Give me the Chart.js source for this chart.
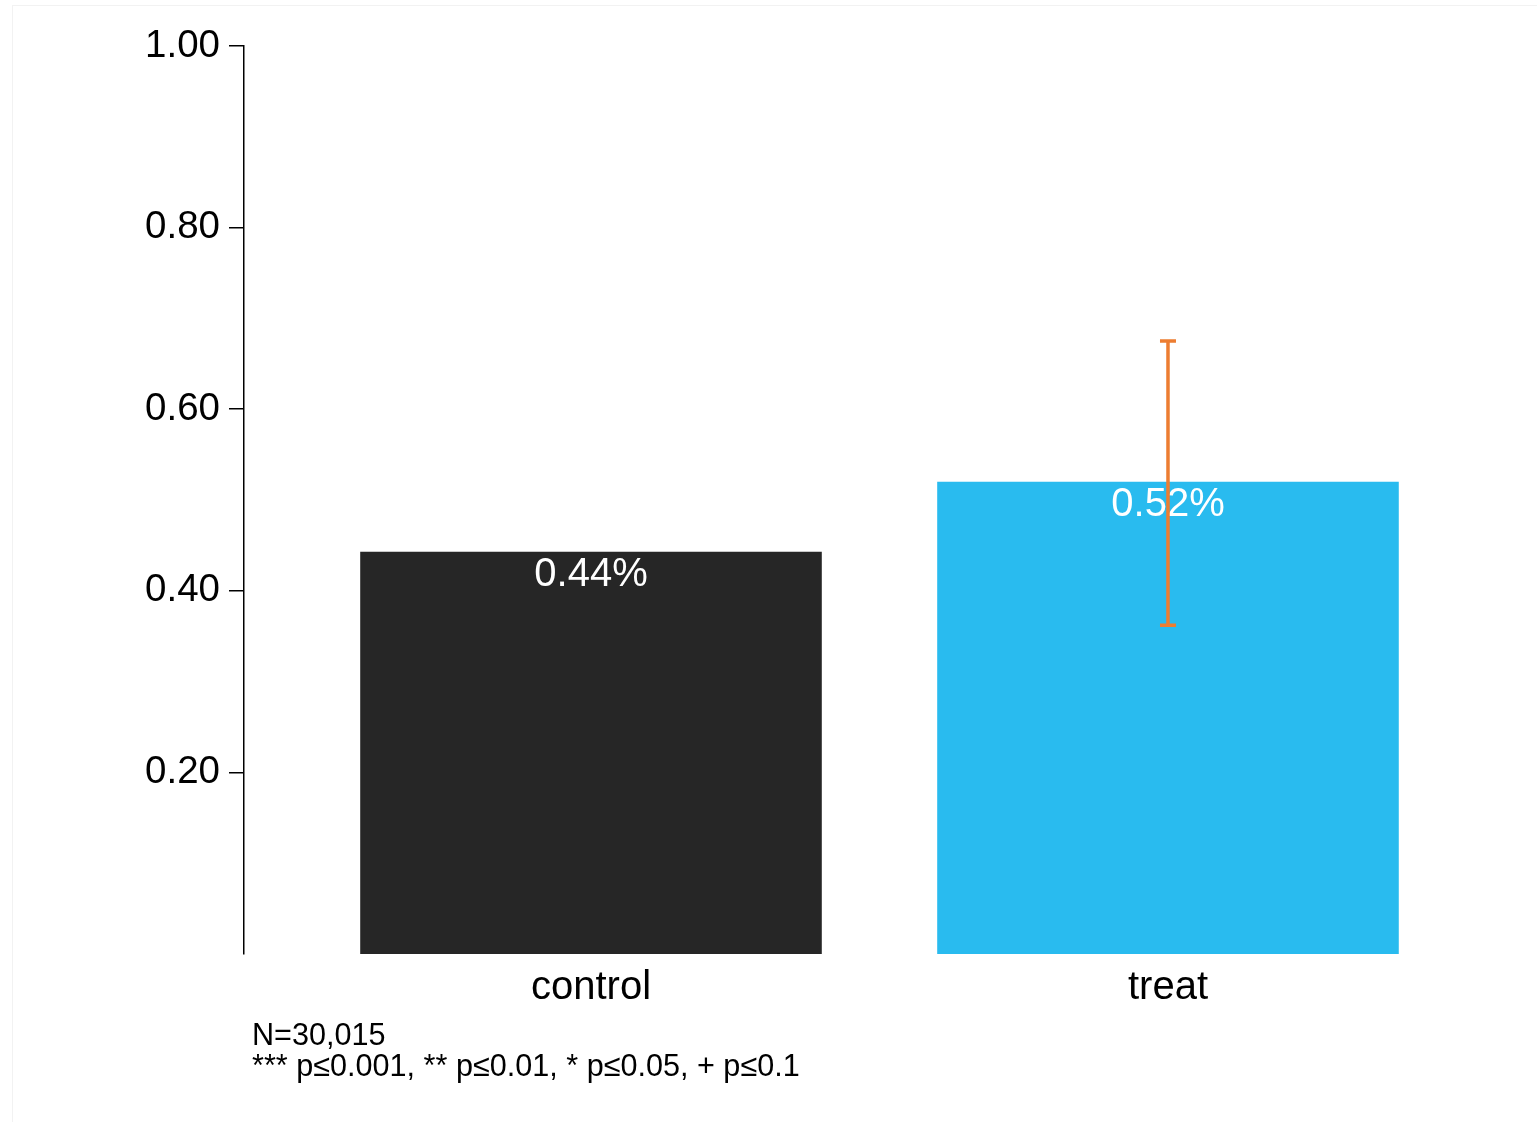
<!DOCTYPE html>
<html>
<head>
<meta charset="utf-8">
<script src="https://cdn.jsdelivr.net/npm/chart.js@4.4.1/dist/chart.umd.min.js"></script>
<style>
  body { margin: 0; background: #fff; }
  #wrap { position: relative; width: 1537px; height: 1122px; }
  #frame { position: absolute; left: 12px; top: 5px; right: 0; bottom: 0; border: 1px solid #f2f2f2; border-right: none; border-bottom: none; }
  #note { position: absolute; left: 252px; top: 1019px; font-family: "Liberation Sans", Arial, sans-serif; font-size: 30.6px; line-height: 31px; color: #000; }
</style>
</head>
<body>
<div id="wrap">
  <div id="frame"></div>
  <canvas id="chart" width="1537" height="1122"></canvas>
  <div id="note">N=30,015<br>*** p≤0.001, ** p≤0.01, * p≤0.05, + p≤0.1</div>
</div>
<script>
// data
const groups = ['control', 'treat'];
const rates = [0.443, 0.520];
const barColors = ['#262626', '#29BBEF'];
const errLow = [null, 0.362];
const errHigh = [null, 0.675];
const yTicks = [0.2, 0.4, 0.6, 0.8, 1.0];

const FONT = '"Liberation Sans", Arial, sans-serif';
// x o'qi chegaralari (y o'qi chiziq chap tomonda turishi uchun)
const X_MIN = -0.6014, X_MAX = 1.5009;

// etiketkalar va xato chizig'i
const barExtras = {
    id: 'barExtras',
    afterDatasetsDraw(chart) {
        const ctx = chart.ctx;
        const meta = chart.getDatasetMeta(0);
        const y = chart.scales.y;
        ctx.save();
        ctx.font = '40px ' + FONT;
        ctx.fillStyle = '#fff';
        ctx.textAlign = 'center';
        ctx.textBaseline = 'middle';
        meta.data.forEach((bar, i) => {
            ctx.fillText(rates[i].toFixed(2) + '%', bar.x, bar.y + 23);
        });
        ctx.strokeStyle = '#ED7D31';
        ctx.lineWidth = 3.5;
        meta.data.forEach((bar, i) => {
            if (errLow[i] == null) return;
            const top = y.getPixelForValue(errHigh[i]);
            const bot = y.getPixelForValue(errLow[i]);
            ctx.beginPath();
            ctx.moveTo(bar.x, top); ctx.lineTo(bar.x, bot);
            ctx.moveTo(bar.x - 8, top); ctx.lineTo(bar.x + 8, top);
            ctx.moveTo(bar.x - 8, bot); ctx.lineTo(bar.x + 8, bot);
            ctx.stroke();
        });
        ctx.restore();
    }
};

new Chart(document.getElementById('chart'), {
    type: 'bar',
    data: {
        datasets: [{
            data: groups.map((g, i) => ({ x: i, y: rates[i] })),
            backgroundColor: barColors,
            borderWidth: 0,
            barPercentage: 1,
            categoryPercentage: 0.8
        }]
    },
    options: {
        responsive: false,
        animation: false,
        layout: { padding: { left: 0, top: 46, right: 80, bottom: 108 } },
        plugins: { legend: { display: false }, tooltip: { enabled: false } },
        scales: {
            x: {
                type: 'linear',
                offset: false,
                bounds: 'data',
                min: X_MIN,
                max: X_MAX,
                afterDataLimits: s => { s.min = X_MIN; s.max = X_MAX; },
                grid: { display: false, drawTicks: false },
                border: { display: false },
                afterBuildTicks: s => { s.ticks = groups.map((g, i) => ({ value: i })); s.min = X_MIN; s.max = X_MAX; },
                afterFit: s => { s.height = 60; },
                ticks: {
                    padding: 10,
                    color: '#000',
                    font: { family: FONT, size: 40 },
                    callback: v => groups[v] ?? ''
                }
            },
            y: {
                min: 0,
                max: 1,
                afterBuildTicks: s => { s.ticks = yTicks.map(v => ({ value: v })); },
                afterFit: s => { s.width = 244; },
                grid: { drawOnChartArea: false, drawTicks: true, tickLength: 15, color: '#000', lineWidth: 1.5 },
                border: { display: true, color: '#000', width: 1.5 },
                ticks: {
                    padding: 9,
                    color: '#000',
                    font: { family: FONT, size: 38.5 },
                    callback: v => v.toFixed(2)
                }
            }
        }
    },
    plugins: [barExtras]
});
</script>
</body>
</html>
